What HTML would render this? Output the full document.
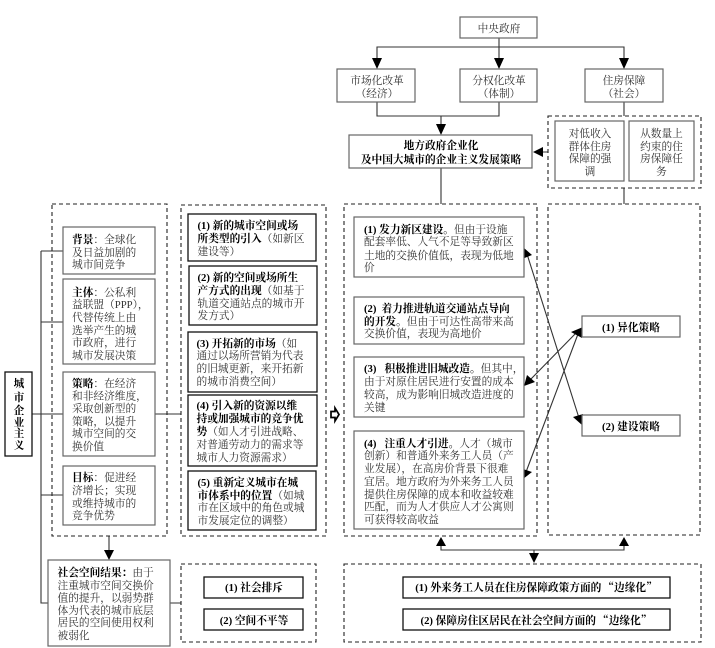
<!DOCTYPE html>
<html><head><meta charset="utf-8"><style>
html,body{margin:0;padding:0;background:#fff}
svg{display:block;filter:blur(.3px)}
text{font-family:"Liberation Serif","Noto Serif CJK SC",serif;font-size:10.7px;fill:#333}
.b{font-weight:700;fill:#000}
.m{text-anchor:middle}
.q{font-family:"Noto Serif CJK SC",serif}
.d{fill:none;stroke:#222;stroke-width:1.1;stroke-dasharray:4 3}
.g{fill:#fff;stroke:#666;stroke-width:1.2}
.k{fill:#fff;stroke:#111;stroke-width:1.3}
.l{fill:none;stroke:#333;stroke-width:1.1}
.a{fill:#000}
</style></head><body>
<svg width="715" height="648" viewBox="0 0 715 648" xmlns="http://www.w3.org/2000/svg">
<!-- connectors -->
<path class="l" d="M499 38V58M377 58V47H624V58M377 102V116H499V102M441 116V124M441 168V204M624 102V116M624 188V204M543 152H548"/>
<path class="l" d="M41 251V603H48M41 251H63M41 322H63M41 495H63M32 414H63M155 414H181M109 536V550M170 603H181M441 546V550H624V546M534 550V553"/>
<path class="l" d="M527 254L579 418M578 331L529 381M578 334L526 472"/>
<!-- arrowheads -->
<path class="a" d="M372 58H382L377 69ZM494 58H504L499 69ZM619 58H629L624 69ZM436 124H446L441 135ZM533 152L543 147V157ZM104 550H114L109 560ZM436 546H446L441 537ZM619 546H629L624 537ZM529 553H539L534 563Z"/>
<path class="a" d="M524 248L532 255L522 259ZM582 425L573 417L583 414ZM583 327L571 332L582 338ZM524 386L527 375L535 382ZM523 479L523 469L532 472Z"/>
<!-- hollow arrow -->
<path d="M331 411.500H335V408L339 414.500L335 421V417.500H331Z" fill="#fff" stroke="#000" stroke-width="1.7"/>
<!-- dashed groups -->
<rect class="d" x="52" y="204" width="115" height="332"/>
<rect class="d" x="181" y="205" width="145" height="331"/>
<rect class="d" x="344" y="204" width="193" height="332"/>
<rect class="d" x="548" y="204" width="152" height="331"/>
<rect class="d" x="548" y="116" width="153" height="72"/>
<rect class="d" x="181" y="564" width="135" height="78"/>
<rect class="d" x="344" y="564" width="357" height="78"/>
<!-- boxes -->
<rect class="g" x="460" y="17" width="77" height="21"/>
<rect class="g" x="337" y="69" width="78" height="33"/>
<rect class="g" x="460" y="69" width="77" height="33"/>
<rect class="g" x="585" y="69" width="78" height="33"/>
<rect class="g" x="349" y="135" width="183" height="33"/>
<rect class="g" x="555" y="121" width="69" height="60"/>
<rect class="g" x="629" y="121" width="65" height="60"/>
<rect class="k" x="5" y="372" width="27" height="84"/>
<rect class="g" x="63" y="227" width="92" height="47"/>
<rect class="g" x="63" y="279" width="92" height="85"/>
<rect class="g" x="63" y="372" width="92" height="84"/>
<rect class="g" x="63" y="466" width="92" height="59"/>
<rect class="k" x="188" y="214" width="128" height="47"/>
<rect class="k" x="189" y="266" width="128" height="59"/>
<rect class="k" x="188" y="332" width="129" height="60"/>
<rect class="k" x="188" y="395" width="129" height="71"/>
<rect class="k" x="188" y="471" width="128" height="59"/>
<rect class="g" x="48" y="560" width="122" height="86"/>
<rect class="k" x="204" y="577" width="99" height="21"/>
<rect class="k" x="204" y="609" width="99" height="21"/>
<rect class="g" x="354" y="217" width="170" height="60"/>
<rect class="g" x="354" y="297" width="170" height="47"/>
<rect class="g" x="354" y="357" width="170" height="60"/>
<rect class="g" x="354" y="431" width="170" height="98"/>
<rect class="g" x="582" y="316" width="98" height="21"/>
<rect class="g" x="582" y="415" width="98" height="21"/>
<rect class="k" x="403" y="577" width="267" height="21"/>
<rect class="k" x="403" y="609" width="267" height="21"/>
<!-- top labels -->
<text class="m" x="499" y="32">中央政府</text>
<text class="m" x="377" y="84">市场化改革</text><text class="m" x="377" y="97">（经济）</text>
<text class="m" x="499" y="84">分权化改革</text><text class="m" x="499" y="97">（体制）</text>
<text class="m" x="624" y="84">住房保障</text><text class="m" x="624" y="97">（社会）</text>
<text class="m b" x="441" y="149">地方政府企业化</text>
<text class="m b" x="441" y="163">及中国大城市的企业主义发展策略</text>
<text class="m" x="590" y="137">对低收入</text><text class="m" x="590" y="150">群体住房</text><text class="m" x="590" y="162">保障的强</text><text class="m" x="590" y="175">调</text>
<text class="m" x="661.5" y="137">从数量上</text><text class="m" x="661.5" y="150">约束的住</text><text class="m" x="661.5" y="162">房保障任</text><text class="m" x="661.5" y="175">务</text>
<!-- left title -->
<text class="m b" x="19" y="387">城</text><text class="m b" x="19" y="401">市</text><text class="m b" x="19" y="414">企</text><text class="m b" x="19" y="426">业</text><text class="m b" x="19" y="437">主</text><text class="m b" x="19" y="449">义</text>
<!-- column A -->
<text x="72" y="243"><tspan class="b">背景</tspan>：全球化</text><text x="72" y="256">及日益加剧的</text><text x="72" y="268">城市间竞争</text>
<text x="72" y="296"><tspan class="b">主体</tspan>：公私利</text><text x="72" y="308">益联盟（PPP），</text><text x="72" y="321">代替传统上由</text><text x="72" y="334">选举产生的城</text><text x="72" y="346">市政府，进行</text><text x="72" y="359">城市发展决策</text>
<text x="72" y="387"><tspan class="b">策略</tspan>：在经济</text><text x="72" y="399.5">和非经济维度，</text><text x="72" y="412">采取创新型的</text><text x="72" y="425">策略，以提升</text><text x="72" y="437">城市空间的交</text><text x="72" y="450">换价值</text>
<text x="72" y="481"><tspan class="b">目标</tspan>：促进经</text><text x="72" y="494">济增长；实现</text><text x="72" y="507">或维持城市的</text><text x="72" y="519">竞争优势</text>
<!-- column B -->
<text x="197.5" y="229" class="b">(1) 新的城市空间或场</text><text x="197.5" y="242"><tspan class="b">所类型的引入</tspan>（如新区</text><text x="197.5" y="255">建设等）</text>
<text x="197.5" y="281" class="b">(2) 新的空间或场所生</text><text x="197.5" y="294"><tspan class="b">产方式的出现</tspan>（如基于</text><text x="197.5" y="307">轨道交通站点的城市开</text><text x="197.5" y="319">发方式）</text>
<text x="196.5" y="347"><tspan class="b">(3) 开拓新的市场</tspan>（如</text><text x="196.5" y="359">通过以场所营销为代表</text><text x="196.5" y="372">的旧城更新，来开拓新</text><text x="196.5" y="385">的城市消费空间）</text>
<text x="196.5" y="409" class="b">(4) 引入新的资源以维</text><text x="196.5" y="422" class="b">持或加强城市的竞争优</text><text x="196.5" y="435"><tspan class="b">势</tspan>（如人才引进战略、</text><text x="196.5" y="448">对普通劳动力的需求等</text><text x="196.5" y="461">城市人力资源需求）</text>
<text x="197.5" y="486" class="b">(5) 重新定义城市在城</text><text x="197.5" y="499"><tspan class="b">市体系中的位置</tspan>（如城</text><text x="197.5" y="511">市在区域中的角色或城</text><text x="197.5" y="524">市发展定位的调整）</text>
<!-- bottom left -->
<text x="57.5" y="576"><tspan class="b">社会空间结果：</tspan>由于</text><text x="57.5" y="589">注重城市空间交换价</text><text x="57.5" y="601.5">值的提升，以弱势群</text><text x="57.5" y="614">体为代表的城市底层</text><text x="57.5" y="626">居民的空间使用权利</text><text x="57.5" y="639">被弱化</text>
<text class="m b" x="254" y="591">(1) 社会排斥</text>
<text class="m b" x="254" y="624">(2) 空间不平等</text>
<!-- mid column -->
<text x="364" y="233"><tspan class="b">(1) 发力新区建设。</tspan>但由于设施</text><text x="364" y="245">配套率低、人气不足等导致新区</text><text x="364" y="259">土地的交换价值低，表现为低地</text><text x="364" y="271">价</text>
<text x="364" y="312"><tspan class="b">(2)</tspan><tspan class="b" dx="5">着力推进轨道交通站点导向</tspan></text><text x="364" y="325"><tspan class="b">的开发。</tspan>但由于可达性高带来高</text><text x="364" y="337">交换价值，表现为高地价</text>
<text x="364" y="372"><tspan class="b">(3)</tspan><tspan class="b" dx="8">积极推进旧城改造。</tspan>但其中，</text><text x="364" y="385">由于对原住居民进行安置的成本</text><text x="364" y="398">较高，成为影响旧城改造进度的</text><text x="364" y="411">关键</text>
<text x="364" y="447"><tspan class="b">(4)</tspan><tspan class="b" dx="8">注重人才引进。</tspan>人才（城市</text><text x="364" y="459">创新）和普通外来务工人员（产</text><text x="364" y="472">业发展），在高房价背景下很难</text><text x="364" y="485">宜居。地方政府为外来务工人员</text><text x="364" y="498">提供住房保障的成本和收益较难</text><text x="364" y="510">匹配，而为人才供应人才公寓则</text><text x="364" y="523">可获得较高收益</text>
<!-- right -->
<text class="m b" x="631" y="331">(1) 异化策略</text>
<text class="m b" x="631" y="430">(2) 建设策略</text>
<text class="m b" x="536" y="591">(1) 外来务工人员在住房保障政策方面的<tspan class="q" dx="2">“</tspan>边缘化<tspan class="q">”</tspan></text>
<text class="m b" x="536" y="624">(2) 保障房住区居民在社会空间方面的<tspan class="q" dx="2">“</tspan>边缘化<tspan class="q">”</tspan></text>
</svg>
</body></html>
